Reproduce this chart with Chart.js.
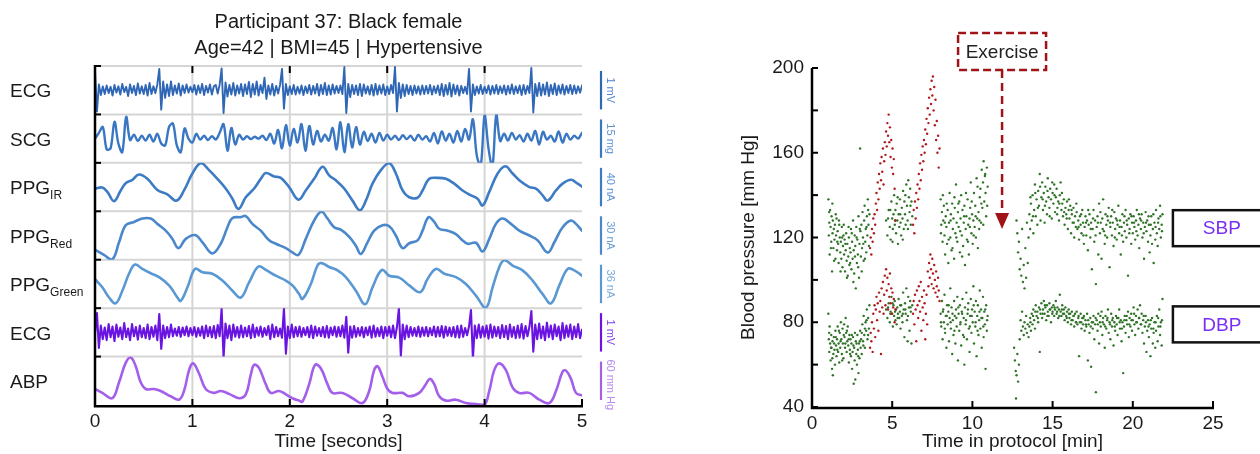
<!DOCTYPE html>
<html><head><meta charset="utf-8">
<script src="https://cdn.jsdelivr.net/npm/chart.js@4.4.1/dist/chart.umd.min.js"></script>
<style>
html,body{margin:0;padding:0;background:#fff;}
#wrap{position:relative;width:1260px;height:454px;overflow:hidden;background:#fff;}
#left{position:absolute;left:0;top:0;}
#right{position:absolute;left:677px;top:0;}
</style></head><body>
<div id="wrap"><canvas id="left" width="677" height="454"></canvas><canvas id="right" width="583" height="454"></canvas></div>
<script>
// ---------------- LEFT PANEL DATA ----------------
const titleLines = ['Participant 37: Black female', 'Age=42 | BMI=45 | Hypertensive'];
const rowNames = ['ECG', 'SCG', 'PPG', 'PPG', 'PPG', 'ECG', 'ABP'];
const rowSubscripts = ['', '', 'IR', 'Red', 'Green', '', ''];
const scaleBarLabels = ['1 mV', '15 mg', '40 nA', '30 nA', '36 nA', '1 mV', '60 mm Hg'];
const timeTicks = [0, 1, 2, 3, 4, 5];
const ecgTimeStep = 0.02; // seconds between ECG samples
const scgTimeStep = 0.04; // seconds between SCG samples

// amplitudes in % of each row's height
const ecgTop = [
  92, 6, 62, 40, 58, 42, 60, 44, 57, 39, 61, 45, 58, 41, 63, 46, 57, 38, 62, 44, 59, 40, 64, 43, 58,
  42, 61, 39, 65, 42, 58, 44, 62, 94, 10, 68, 34, 62, 38, 68, 40, 60, 43, 64, 39, 60, 44, 62, 45, 57,
  46, 61, 41, 60, 44, 63, 40, 59, 45, 62, 41, 58, 61, 43, 62, 95, 3, 66, 37, 61, 41, 65, 39, 60, 43,
  63, 38, 62, 42, 67, 36, 63, 41, 68, 39, 61, 44, 76, 32, 60, 41, 63, 39, 59, 43, 61, 94, 12, 63, 40,
  58, 42, 61, 41, 57, 43, 60, 40, 58, 44, 61, 41, 59, 43, 63, 39, 61, 42, 65, 40, 60, 41, 62, 43, 59,
  44, 60, 42, 98, 3, 63, 36, 61, 42, 60, 40, 63, 38, 62, 43, 58, 41, 61, 39, 63, 41, 60, 43, 62, 40,
  58, 42, 61, 44, 98, 6, 65, 34, 62, 38, 61, 42, 59, 40, 60, 43, 58, 41, 60, 42, 59, 43, 61, 41, 58,
  44, 60, 40, 63, 38, 61, 41, 65, 37, 62, 42, 60, 39, 59, 44, 57, 42, 94, 6, 62, 40, 58, 43, 61, 42,
  57, 44, 60, 41, 59, 43, 61, 42, 58, 44, 60, 41, 59, 43, 62, 42, 58, 44, 60, 40, 61, 42, 59, 44, 96,
  4, 63, 38, 65, 39, 62, 41, 66, 38, 61, 42, 64, 40, 60, 43, 62, 41, 59, 44, 61, 42, 60, 43, 58, 45, 60
];
const scg = [
  50, 62, 74, 28, 30, 85, 40, 22, 95, 47, 58, 45, 56, 46, 58, 44, 60, 40, 36, 74, 81, 36, 22, 71, 50,
  42, 60, 48, 56, 47, 55, 48, 62, 80, 25, 72, 38, 58, 48, 55, 49, 54, 50, 56, 47, 60, 40, 68, 30, 78,
  36, 70, 42, 80, 25, 76, 38, 66, 44, 58, 46, 72, 28, 84, 22, 80, 32, 74, 38, 64, 45, 60, 42, 62, 46,
  58, 48, 56, 47, 57, 49, 56, 46, 58, 48, 55, 44, 62, 40, 65, 46, 60, 42, 66, 44, 70, 48, 90, 15, -6,
  98, 30, -8, 99, 45, 60, 46, 62, 48, 57, 44, 60, 46, 66, 38, 64, 48, 56, 44, 65, 42, 60, 48, 56, 50, 62
];
const ppgIr = [
  [0.00,47],[0.075,49],[0.127,40],[0.195,21],[0.264,43],[0.315,58],[0.384,65],[0.452,76],[0.538,67],[0.640,44],
  [0.743,35],[0.836,22],[0.914,43],[1.00,78],[1.086,99],[1.171,85],[1.257,67],[1.342,47],[1.411,26],[1.473,5],
  [1.548,29],[1.634,47],[1.702,67],[1.753,79],[1.839,72],[1.908,69],[1.993,50],[2.089,24],[2.164,43],[2.25,67],
  [2.336,92],[2.404,74],[2.473,64],[2.558,47],[2.644,22],[2.719,2],[2.781,22],[2.849,57],[2.935,85],[3.021,99],
  [3.089,78],[3.158,43],[3.226,29],[3.312,28],[3.363,43],[3.432,67],[3.517,69],[3.603,67],[3.688,57],[3.774,43],
  [3.860,33],[3.928,26],[3.979,12],[4.048,40],[4.134,78],[4.212,93],[4.288,78],[4.356,64],[4.459,50],[4.527,47],
  [4.596,33],[4.647,22],[4.733,43],[4.801,57],[4.887,65],[4.955,57],[5.0,51]
];
const ppgRed = [
  [0.00,21],[0.092,10],[0.178,1],[0.247,36],[0.315,71],[0.401,78],[0.486,85],[0.572,85],[0.640,74],[0.726,60],
  [0.795,43],[0.856,24],[0.932,43],[1.027,51],[1.103,36],[1.205,13],[1.291,33],[1.360,67],[1.411,86],[1.497,88],
  [1.548,90],[1.616,74],[1.702,60],[1.788,40],[1.856,33],[1.959,24],[2.027,15],[2.089,10],[2.164,43],[2.250,81],
  [2.325,99],[2.387,85],[2.455,67],[2.524,62],[2.610,47],[2.678,29],[2.729,12],[2.798,36],[2.866,60],[2.952,71],
  [3.021,69],[3.089,50],[3.158,24],[3.226,34],[3.312,40],[3.363,60],[3.425,88],[3.483,78],[3.534,64],[3.620,60],
  [3.705,53],[3.757,43],[3.825,33],[3.911,35],[3.979,17],[4.048,43],[4.116,74],[4.185,85],[4.271,74],[4.356,60],
  [4.459,50],[4.545,40],[4.647,15],[4.716,36],[4.801,67],[4.887,81],[4.938,74],[5.0,60]
];
const ppgGreen = [
  [0.00,60],[0.075,43],[0.144,22],[0.212,10],[0.281,36],[0.349,71],[0.411,90],[0.486,81],[0.572,72],[0.658,64],
  [0.760,47],[0.846,22],[0.880,15],[0.949,43],[1.027,81],[1.103,74],[1.205,71],[1.308,57],[1.411,36],[1.497,22],
  [1.582,53],[1.678,86],[1.753,79],[1.856,67],[1.959,57],[2.027,47],[2.096,29],[2.130,19],[2.216,50],[2.284,88],
  [2.325,93],[2.404,85],[2.490,78],[2.575,64],[2.678,36],[2.774,8],[2.849,43],[2.945,79],[3.021,67],[3.123,63],
  [3.226,47],[3.339,33],[3.414,60],[3.500,81],[3.586,71],[3.705,64],[3.808,50],[3.911,26],[4.014,1],[4.082,43],
  [4.151,85],[4.202,99],[4.288,88],[4.390,78],[4.493,57],[4.596,29],[4.682,10],[4.767,47],[4.853,81],[4.921,78],
  [5.0,67]
];
const ecgBottom = [
  48, 90, 18, 64, 36, 60, 34, 67, 40, 62, 32, 66, 41, 60, 36, 69, 40, 58, 34, 67, 42, 61, 35, 64, 40,
  59, 38, 66, 36, 61, 41, 64, 34, 88, 16, 64, 38, 61, 40, 66, 42, 58, 43, 61, 41, 60, 44, 62, 42, 59,
  44, 61, 41, 59, 43, 62, 38, 64, 42, 61, 40, 63, 38, 65, 42, 99, -2, 68, 38, 64, 34, 66, 41, 61, 39,
  64, 40, 60, 42, 63, 38, 66, 40, 60, 43, 62, 41, 59, 44, 63, 36, 66, 40, 61, 42, 58, 39, 99, 6, 62,
  38, 66, 40, 61, 42, 62, 41, 59, 44, 61, 40, 64, 38, 62, 43, 59, 42, 61, 40, 63, 39, 60, 44, 62, 41,
  61, 42, 64, 39, 82, 8, 62, 39, 63, 41, 59, 43, 61, 40, 60, 44, 62, 39, 64, 41, 59, 42, 62, 38, 61,
  43, 62, 40, 64, 38, 61, 99, 2, 66, 36, 64, 40, 61, 43, 59, 42, 62, 41, 60, 43, 61, 42, 59, 44, 62,
  41, 61, 42, 63, 39, 62, 43, 60, 42, 61, 40, 63, 39, 64, 41, 59, 44, 62, 96, -4, 64, 38, 66, 39, 62,
  41, 64, 37, 66, 39, 62, 42, 61, 38, 65, 40, 63, 36, 66, 41, 61, 38, 64, 39, 67, 37, 63, 42, 61, 94,
  10, 66, 36, 68, 38, 62, 34, 70, 40, 64, 36, 66, 42, 62, 34, 69, 38, 64, 41, 66, 36, 62, 40, 67, 38, 56
];
const abp = [
  [0.00,33],[0.075,25],[0.178,14],[0.247,47],[0.315,87],[0.366,98],[0.418,80],[0.469,47],[0.521,33],[0.606,33],
  [0.675,29],[0.777,18],[0.863,11],[0.914,29],[0.966,72],[1.007,86],[1.068,65],[1.137,33],[1.223,25],[1.291,29],
  [1.377,23],[1.479,14],[1.548,22],[1.599,62],[1.634,83],[1.685,76],[1.753,43],[1.805,25],[1.890,29],[1.959,22],
  [2.027,14],[2.096,9],[2.130,7],[2.199,43],[2.260,83],[2.318,76],[2.387,43],[2.438,25],[2.541,25],[2.644,14],
  [2.747,4],[2.815,29],[2.866,72],[2.901,80],[2.952,58],[3.003,33],[3.055,25],[3.158,25],[3.226,18],[3.329,25],
  [3.397,43],[3.438,54],[3.483,43],[3.534,18],[3.603,9],[3.705,11],[3.808,4],[3.911,2],[3.997,0],[4.048,29],
  [4.099,72],[4.151,86],[4.219,72],[4.288,36],[4.356,25],[4.459,25],[4.562,11],[4.664,4],[4.733,29],[4.801,69],
  [4.836,71],[4.887,54],[4.938,25],[5.0,20]
];

// ---------------- RIGHT PANEL DATA ----------------
const protocolTicks = [0, 5, 10, 15, 20, 25];
const pressureTicks = [40, 80, 120, 160, 200];
const exerciseLabel = 'Exercise';
const sbpLabel = 'SBP';
const dbpLabel = 'DBP';
const sbpRest = [
  [1.02,138],[1.05,121],[1.08,127],[1.1,112],[1.13,133],[1.16,125],[1.2,118],[1.22,130],[1.25,104],[1.28,122],[1.3,128],[1.33,115],[1.36,124],[1.4,119],[1.43,126],[1.46,110],[1.5,121],[1.53,129],[1.56,114],[1.6,123],[1.63,117],[1.66,108],[1.7,126],[1.73,120],[1.76,113],[1.8,118],[1.83,110],[1.86,125],[1.9,106],[1.93,116],[1.96,121],[2.0,112],[2.03,119],[2.06,104],[2.1,114],[2.13,122],[2.16,109],[2.2,117],[2.23,102],[2.26,111],[2.3,120],[2.33,107],[2.36,115],[2.4,113],[2.43,124],[2.46,105],[2.5,118],[2.53,110],[2.56,128],[2.6,114],[2.63,103],[2.66,121],[2.7,116],[2.73,96],[2.76,125],[2.8,108],[2.83,119],[2.86,112],[2.9,130],[2.93,101],[2.96,117],[3.0,162],[3.02,123],[3.05,111],[3.08,126],[3.12,115],[3.15,132],[3.18,120],[3.22,109],[3.25,128],[3.28,135],[3.32,118],[3.35,124],[3.38,113],[3.42,130],[3.45,121],[3.48,138],[3.52,126],[3.55,116],[3.58,131],
  [1.07,132],[1.18,115],[1.27,136],[1.38,109],[1.48,131],[1.58,118],[1.68,128],[1.78,104],[1.88,120],[1.98,126],[2.08,117],[2.18,101],[2.28,125],[2.38,108],[2.48,122],[2.58,99],[2.68,111],[2.78,120],[2.88,106],[2.98,124],[3.1,104],[3.2,117],[3.3,110],[3.4,125],[3.5,133],
  [4.62,128],[4.7,121],[4.78,133],[4.85,125],[4.9,119],[4.95,137],[5.0,129],[5.04,124],[5.08,131],[5.12,140],[5.16,126],[5.2,133],[5.24,122],[5.28,136],[5.32,128],[5.36,117],[5.4,131],[5.44,125],[5.48,138],[5.52,127],[5.56,121],[5.6,134],[5.64,129],[5.68,142],[5.72,124],[5.76,137],[5.8,131],[5.84,126],[5.88,145],[5.92,135],[5.96,128],[6.0,147],[6.04,139],[6.08,132],[6.12,143],[6.16,126],[6.2,137],[6.25,130],
  [4.74,129],[4.88,133],[5.02,118],[5.18,128],[5.34,139],[5.5,131],[5.66,119],[5.82,140],[5.98,124],[6.14,135],
  [8.02,138],[8.06,126],[8.1,132],[8.14,118],[8.18,128],[8.22,135],[8.26,121],[8.3,112],[8.34,130],[8.38,125],[8.42,117],[8.46,133],[8.5,108],[8.54,127],[8.58,141],[8.62,120],[8.66,131],[8.7,114],[8.74,136],[8.78,124],[8.82,129],[8.86,110],[8.9,134],[8.94,122],[8.98,145],[9.02,127],[9.06,118],[9.1,132],[9.14,125],[9.18,137],[9.22,113],[9.26,129],[9.3,140],[9.34,121],[9.38,133],[9.42,116],[9.46,127],[9.5,135],[9.54,107],[9.58,124],[9.62,130],[9.66,119],[9.7,138],[9.74,126],[9.78,112],[9.82,129],[9.86,134],[9.9,146],[9.94,122],[9.98,131],[10.02,117],[10.06,128],[10.1,141],[10.14,125],[10.18,135],[10.22,120],[10.26,148],[10.3,129],[10.34,115],[10.38,132],[10.42,124],[10.46,139],[10.5,143],[10.54,127],[10.58,152],[10.62,134],[10.66,146],[10.7,156],[10.74,137],[10.78,149],[10.82,141],[10.86,130],[10.9,153],[10.95,144],
  [8.04,122],[8.16,140],[8.28,127],[8.4,136],[8.52,119],[8.64,128],[8.76,115],[8.88,139],[9.0,120],[9.12,136],[9.24,123],[9.36,111],[9.48,130],[9.6,141],[9.72,118],[9.84,125],[9.96,137],[10.08,121],[10.2,130],[10.32,144],[10.44,128],[10.56,136],[10.68,126],[10.8,150],[10.92,135],
  [12.75,128],[12.8,122],[12.85,113],[12.9,118],[12.95,105],[13.0,110],[13.05,102],[13.1,124],[13.15,99],[13.2,107],[13.25,96],[13.3,115],[13.35,101],[13.4,127],[13.45,108],[13.5,120],
  [13.55,131],[13.6,124],[13.65,136],[13.7,128],[13.75,140],[13.8,122],[13.85,133],[13.9,145],[13.95,130],[14.0,138],[14.05,126],[14.1,142],[14.15,135],[14.2,150],[14.25,128],[14.3,139],[14.35,146],[14.4,133],[14.45,141],[14.5,127],[14.55,144],[14.6,137],[14.65,131],[14.7,148],[14.75,139],[14.8,134],[14.85,143],[14.9,138],[14.95,129],[15.0,141],[15.05,136],[15.1,145],[15.15,132],[15.2,139],[15.25,143],[15.3,134],[15.35,137],[15.4,128],[15.45,140],[15.5,146],[15.55,133],[15.6,136],[15.65,130],[15.7,138],[15.75,126],[15.8,134],[15.85,131],[15.9,137],[15.95,124],[16.0,133],[16.05,129],[16.1,135],[16.15,122],[16.2,131],[16.25,127],[16.3,134],[16.35,120],[16.4,130],[16.45,125],
  [13.62,139],[13.78,130],[13.92,141],[14.08,134],[14.22,144],[14.38,138],[14.52,135],[14.68,142],[14.82,130],[14.98,146],[15.12,140],[15.28,131],[15.42,136],[15.58,141],[15.72,132],[15.88,129],[16.02,138],[16.18,133],[16.32,127],[16.48,136],
  [16.5,132],[16.55,124],[16.6,128],[16.65,119],[16.7,130],[16.75,126],[16.8,122],[16.85,133],[16.9,127],[16.95,117],[17.0,125],[17.05,130],[17.1,121],[17.15,128],[17.2,114],[17.25,126],[17.3,131],[17.35,120],[17.4,127],[17.45,105],[17.5,124],[17.55,133],[17.6,118],[17.65,128],[17.7,98],[17.75,125],[17.8,130],[17.85,112],[17.9,136],[17.95,122],[18.0,127],[18.05,110],[18.1,129],[18.15,138],[18.2,123],[18.25,117],[18.3,131],[18.35,126],[18.4,120],[18.45,128],[18.5,134],[18.55,106],[18.6,125],[18.65,130],[18.7,121],[18.75,127],[18.8,116],[18.85,132],[18.9,124],[18.95,129],[19.0,119],[19.05,126],[19.1,135],[19.15,122],[19.2,128],[19.25,112],[19.3,125],[19.35,131],[19.4,118],[19.45,127],[19.5,123],[19.55,133],[19.6,120],[19.65,126],[19.7,102],[19.75,129],[19.8,124],[19.85,131],[19.9,117],[19.95,127],[20.0,122],[20.05,130],[20.1,125],[20.15,119],[20.2,128],[20.25,133],[20.3,121],[20.35,126],[20.4,115],[20.45,129],[20.5,124],[20.55,131],[20.6,120],[20.65,127],[20.7,110],[20.75,125],[20.8,132],[20.85,123],[20.9,128],[20.95,118],[21.0,126],[21.05,113],[21.1,121],[21.15,130],[21.2,117],[21.25,124],[21.3,108],[21.35,127],[21.4,119],[21.45,133],[21.5,122],[21.55,116],[21.6,129],[21.65,124],[21.7,135],[21.75,120],[21.8,126],[21.85,131],
  [16.62,125],[16.78,131],[16.92,121],[17.08,127],[17.22,133],[17.38,124],[17.52,129],[17.68,121],[17.82,127],[17.98,132],[18.12,124],[18.28,121],[18.42,130],[18.58,127],[18.72,133],[18.88,120],[19.02,128],[19.18,125],[19.32,121],[19.48,130],[19.62,128],[19.78,122],[19.92,130],[20.08,127],[20.22,123],[20.38,131],[20.52,128],[20.68,122],[20.82,127],[20.98,130],[21.12,126],[21.28,131],[21.42,125],[21.58,127],[21.72,130],[21.82,123]
];
const dbpRest = [
  [1.02,84],[1.05,72],[1.08,66],[1.1,78],[1.13,70],[1.16,62],[1.2,74],[1.22,68],[1.25,58],[1.28,71],[1.3,55],[1.33,65],[1.36,73],[1.4,67],[1.43,60],[1.46,76],[1.5,69],[1.53,64],[1.56,72],[1.6,78],[1.63,66],[1.66,70],[1.7,61],[1.73,75],[1.76,68],[1.8,80],[1.83,72],[1.86,65],[1.9,77],[1.93,70],[1.96,63],[2.0,79],[2.03,73],[2.06,68],[2.1,82],[2.13,75],[2.16,66],[2.2,71],[2.23,78],[2.26,69],[2.3,61],[2.33,74],[2.36,67],[2.4,72],[2.43,64],[2.46,70],[2.5,58],[2.53,66],[2.56,73],[2.6,51],[2.63,68],[2.66,62],[2.7,53],[2.73,71],[2.76,65],[2.8,60],[2.83,74],[2.86,67],[2.9,56],[2.93,70],[2.96,63],[3.0,76],[3.03,68],[3.06,72],[3.1,65],[3.14,79],[3.18,71],[3.22,83],[3.26,74],[3.3,68],[3.34,80],[3.38,76],[3.42,86],[3.46,72],[3.5,82],[3.55,77],[3.58,88],
  [1.07,75],[1.18,68],[1.27,63],[1.38,70],[1.48,73],[1.58,67],[1.68,76],[1.78,71],[1.88,62],[1.98,74],[2.08,70],[2.18,76],[2.28,72],[2.38,65],[2.48,74],[2.58,69],[2.68,75],[2.78,70],[2.88,64],[2.98,71],[3.1,75],[3.2,69],[3.3,77],[3.4,81],[3.5,74],
  [4.62,86],[4.7,82],[4.78,89],[4.85,80],[4.9,85],[4.95,92],[5.0,84],[5.04,78],[5.08,88],[5.12,83],[5.16,90],[5.2,81],[5.24,86],[5.28,79],[5.32,87],[5.36,84],[5.4,91],[5.44,82],[5.48,85],[5.52,77],[5.56,88],[5.6,83],[5.64,80],[5.68,94],[5.72,86],[5.76,73],[5.8,89],[5.84,84],[5.88,96],[5.92,81],[5.96,71],[6.0,92],[6.04,87],[6.08,76],[6.12,90],[6.16,85],[6.2,70],[6.25,88],
  [4.74,87],[4.88,84],[5.02,89],[5.18,85],[5.34,82],[5.5,88],[5.66,84],[5.82,86],[5.98,83],[6.14,87],
  [8.02,84],[8.06,78],[8.1,90],[8.14,72],[8.18,86],[8.22,80],[8.26,93],[8.3,75],[8.34,83],[8.38,68],[8.42,88],[8.46,79],[8.5,85],[8.54,71],[8.58,82],[8.62,96],[8.66,77],[8.7,87],[8.74,65],[8.78,81],[8.82,74],[8.86,90],[8.9,83],[8.94,70],[8.98,86],[9.02,78],[9.06,92],[9.1,62],[9.14,84],[9.18,76],[9.22,88],[9.26,80],[9.3,69],[9.34,85],[9.38,91],[9.42,74],[9.46,82],[9.5,60],[9.54,87],[9.58,79],[9.62,94],[9.66,72],[9.7,84],[9.74,89],[9.78,77],[9.82,66],[9.86,83],[9.9,91],[9.94,75],[9.98,86],[10.02,80],[10.06,97],[10.1,70],[10.14,85],[10.18,78],[10.22,90],[10.26,64],[10.3,83],[10.34,88],[10.38,74],[10.42,81],[10.46,95],[10.5,77],[10.54,86],[10.58,68],[10.62,82],[10.66,92],[10.7,73],[10.74,85],[10.78,79],[10.82,58],[10.86,88],[10.9,76],[10.95,83],
  [8.04,80],[8.16,85],[8.28,77],[8.4,83],[8.52,88],[8.64,80],[8.76,84],[8.88,76],[9.0,82],[9.12,87],[9.24,79],[9.36,84],[9.48,73],[9.6,81],[9.72,86],[9.84,78],[9.96,83],[10.08,88],[10.2,80],[10.32,76],[10.44,85],[10.56,82],[10.68,78],[10.8,86],[10.92,81],
  [12.6,68],[12.65,62],[12.7,57],[12.72,44],[12.75,55],[12.8,65],[12.85,52],[12.9,60],[12.95,72],[13.0,81],[13.05,76],[13.1,85],[13.15,78],[13.2,74],[13.25,80],[13.3,77],[13.35,83],[13.4,75],[13.45,79],[13.5,73],
  [13.55,78],[13.6,82],[13.65,76],[13.7,84],[13.75,79],[13.8,86],[13.85,81],[13.9,77],[13.95,88],[14.0,83],[14.05,85],[14.1,80],[14.15,87],[14.2,66],[14.25,84],[14.3,89],[14.35,82],[14.4,86],[14.45,90],[14.5,84],[14.55,87],[14.6,81],[14.65,88],[14.7,85],[14.75,83],[14.8,89],[14.85,86],[14.9,80],[14.95,87],[15.0,85],[15.05,88],[15.1,83],[15.15,86],[15.2,90],[15.25,84],[15.3,87],[15.35,82],[15.4,86],[15.45,93],[15.5,85],[15.55,83],[15.6,88],[15.65,84],[15.7,86],[15.75,81],[15.8,87],[15.85,83],[15.9,85],[15.95,80],[16.0,86],[16.05,82],[16.1,84],[16.15,79],[16.2,85],[16.25,81],[16.3,83],[16.35,78],[16.4,84],[16.45,80],[16.5,85],[16.55,79],[16.6,82],[16.65,64],[16.7,80],[16.75,84],[16.8,77],[16.85,82],[16.9,79],[16.95,83],[17.0,76],[17.05,81],[17.1,78],[17.15,84],[17.2,62],[17.25,79],[17.3,75],[17.35,82],[17.4,59],[17.45,80],[17.5,77],[17.55,83],[17.6,72],[17.65,79],[17.7,47],[17.75,81],[17.8,76],[17.85,84],[17.9,70],[17.95,80],[18.0,78],[18.05,85],[18.1,74],[18.15,82],[18.2,79],[18.25,68],[18.3,83],[18.35,77],[18.4,81],[18.45,86],[18.5,75],[18.55,80],[18.6,72],[18.65,84],[18.7,78],[18.75,82],[18.8,69],[18.85,80],[18.9,76],[18.95,83],[19.0,79],[19.05,74],[19.1,82],[19.15,86],[19.2,77],[19.25,81],[19.3,71],[19.35,80],[19.4,56],[19.45,78],[19.5,83],[19.55,75],[19.6,81],[19.65,79],[19.7,85],[19.75,73],[19.8,82],[19.85,78],[19.9,84],[19.95,76],[20.0,81],[20.05,87],[20.1,79],[20.15,74],[20.2,83],[20.25,80],[20.3,86],[20.35,77],[20.4,82],[20.45,88],[20.5,79],[20.55,84],[20.6,75],[20.65,81],[20.7,70],[20.75,78],[20.8,83],[20.85,66],[20.9,76],[20.95,81],[21.0,73],[21.05,79],[21.1,64],[21.15,77],[21.2,82],[21.25,70],[21.3,75],[21.35,80],[21.4,68],[21.45,76],[21.5,83],[21.55,71],[21.6,78],[21.65,86],[21.7,74],[21.75,80],[21.8,69],[21.85,91],
  [13.62,80],[13.78,83],[13.92,85],[14.08,82],[14.22,86],[14.38,84],[14.52,88],[14.68,83],[14.82,86],[14.98,84],[15.12,87],[15.28,85],[15.42,83],[15.58,86],[15.72,84],[15.88,82],[16.02,84],[16.18,81],[16.32,83],[16.48,80],[16.62,83],[16.78,80],[16.92,82],[17.08,79],[17.22,81],[17.38,78],[17.52,80],[17.68,82],[17.82,79],[17.98,83],[18.12,80],[18.28,78],[18.42,82],[18.58,79],[18.72,81],[18.88,78],[19.02,82],[19.18,80],[19.32,77],[19.48,81],[19.62,83],[19.78,79],[19.92,81],[20.08,84],[20.22,80],[20.38,82],[20.52,79],[20.68,83],[20.82,80],[20.98,78],[21.12,81],[21.28,77],[21.42,80],[21.58,82],[21.72,78],[21.82,81]
];
const sbpExercise = [
  [3.62,115],[3.66,120],[3.7,112],[3.74,124],[3.78,118],[3.82,129],[3.86,122],[3.9,131],[3.94,126],[3.98,136],[4.02,141],[4.06,133],[4.1,146],[4.14,138],[4.18,150],[4.22,143],[4.26,155],[4.3,147],[4.34,158],[4.38,151],[4.42,162],[4.46,145],[4.5,156],[4.54,165],[4.58,159],[4.62,170],[4.66,163],[4.7,174],[4.74,168],[4.78,178],[4.82,165],[4.86,172],[4.9,158],[4.94,166],[4.98,153],[5.02,162],[5.06,150],[5.1,157],[5.15,143],[5.2,128],
  [6.3,126],[6.34,133],[6.38,122],[6.42,137],[6.46,129],[6.5,141],[6.54,134],[6.58,145],[6.62,138],[6.66,150],[6.7,143],[6.74,155],[6.78,147],[6.82,159],[6.86,152],[6.9,163],[6.94,156],[6.98,166],[7.02,160],[7.06,171],[7.1,164],[7.14,176],[7.18,169],[7.22,181],[7.26,174],[7.3,186],[7.34,178],[7.38,190],[7.42,183],[7.46,194],[7.5,187],[7.54,196],[7.58,180],[7.62,191],[7.66,173],[7.7,185],[7.74,166],[7.78,175],[7.82,160],[7.86,168],[7.9,153],[7.95,162]
];
const dbpExercise = [
  [3.62,68],[3.66,75],[3.7,71],[3.74,80],[3.78,66],[3.82,84],[3.86,77],[3.9,88],[3.94,73],[3.98,86],[4.02,92],[4.06,81],[4.1,89],[4.14,76],[4.18,94],[4.22,85],[4.26,90],[4.3,65],[4.34,96],[4.38,87],[4.42,99],[4.46,84],[4.5,93],[4.54,102],[4.58,88],[4.62,105],[4.66,95],[4.7,101],[4.74,86],[4.78,98],[4.82,92],[4.86,103],[4.9,89],[4.94,96],[4.98,84],[5.02,94],[5.06,87],[5.1,91],[5.15,80],[5.2,86],
  [6.3,84],[6.34,90],[6.38,79],[6.42,93],[6.46,86],[6.5,71],[6.54,95],[6.58,88],[6.62,82],[6.66,97],[6.7,90],[6.74,85],[6.78,99],[6.82,76],[6.86,92],[6.9,87],[6.94,81],[6.98,95],[7.02,89],[7.06,72],[7.1,84],[7.14,93],[7.18,79],[7.22,104],[7.26,97],[7.3,108],[7.34,101],[7.38,112],[7.42,105],[7.46,98],[7.5,110],[7.54,103],[7.58,96],[7.62,107],[7.66,100],[7.7,94],[7.74,104],[7.78,97],[7.82,92],[7.86,101],[7.9,95],[7.95,90]
];

// ---------------- STYLE ----------------
const FONT = "'Liberation Sans', Arial, Helvetica, sans-serif";
const TEXT = '#1a1a1a';
const rowColors = ['#2f66b5', '#3a77c3', '#3d7bc4', '#4a88cb', '#5a98d3', '#6a14e2', '#a35fea'];
const barTextColors = ['#4f82cf', '#5a90d2', '#5f93d3', '#6a9ed6', '#7aaadb', '#7d3bef', '#b68af0'];
const rowWidths = [1.9, 2.4, 2.6, 2.6, 2.6, 2.1, 2.6];
const GRID = '#d5d5d5';
const GREEN = '#2f7327';
const RED = '#b0181c';
const EX_RED = '#a01418';
const PURPLE = '#7a2ef5';

function sampled(values, step) { return values.map((v, i) => ({x: Math.round(i * step * 1000) / 1000, y: v})); }
function pairs(arr) { return arr.map(p => ({x: p[0], y: p[1]})); }

const rowData = [sampled(ecgTop, ecgTimeStep), sampled(scg, scgTimeStep), pairs(ppgIr), pairs(ppgRed), pairs(ppgGreen), sampled(ecgBottom, ecgTimeStep), pairs(abp)];
const rowSmooth = [0, 0.35, 0.4, 0.4, 0.4, 0, 0.4];

const leftScales = {
  x: {
    type: 'linear', position: 'bottom', min: 0, max: 5,
    afterBuildTicks: s => { s.ticks = timeTicks.map(v => ({value: v})); },
    ticks: {padding: 5, color: TEXT, font: {family: FONT, size: 19}, autoSkip: false},
    grid: {display: false, drawTicks: false}, border: {display: false},
    title: {display: true, text: 'Time [seconds]', color: TEXT, font: {family: FONT, size: 19}, padding: {top: 0, bottom: 1}},
    afterFit: s => { s.height = 49; }
  }
};
for (let i = 0; i < 7; i++) {
  leftScales['r' + i] = {
    type: 'linear', position: 'left', stack: 'rows', stackWeight: 1, weight: 10 - i,
    min: 0, max: 100,
    ticks: {display: false}, grid: {display: false, drawTicks: false}, border: {display: false},
    afterFit: s => { s.width = 0; }
  };
}

const leftPlugin = {
  id: 'leftDecor',
  beforeDatasetsDraw(chart) {
    const {ctx, chartArea: a, scales} = chart;
    ctx.save();
    ctx.strokeStyle = GRID; ctx.lineWidth = 2;
    for (let i = 0; i < 7; i++) {
      const s = scales['r' + i];
      ctx.beginPath(); ctx.moveTo(a.left, s.top); ctx.lineTo(a.right, s.top); ctx.stroke();
    }
    timeTicks.slice(1, -1).forEach(t => {
      const x = scales.x.getPixelForValue(t);
      ctx.beginPath(); ctx.moveTo(x, a.top); ctx.lineTo(x, a.bottom); ctx.stroke();
    });
    ctx.restore();
  },
  afterDatasetsDraw(chart) {
    const {ctx, chartArea: a, scales} = chart;
    ctx.save();
    ctx.strokeStyle = '#000'; ctx.lineWidth = 2.5; ctx.lineCap = 'butt';
    ctx.beginPath(); ctx.moveTo(a.left, a.top - 1); ctx.lineTo(a.left, a.bottom + 1.2); ctx.lineTo(a.right + 1, a.bottom + 1.2); ctx.stroke();
    ctx.lineWidth = 2;
    for (let i = 0; i < 7; i++) {
      const s = scales['r' + i];
      ctx.beginPath(); ctx.moveTo(a.left, s.top); ctx.lineTo(a.left + 6, s.top); ctx.stroke();
    }
    timeTicks.forEach(t => {
      const x = scales.x.getPixelForValue(t);
      ctx.beginPath(); ctx.moveTo(x, a.bottom); ctx.lineTo(x, a.bottom - 6); ctx.stroke();
      if (t > 0 && t < 5) { ctx.beginPath(); ctx.moveTo(x, a.top); ctx.lineTo(x, a.top + 7); ctx.stroke(); }
    });
    // row labels
    ctx.fillStyle = TEXT; ctx.textBaseline = 'middle'; ctx.textAlign = 'left';
    for (let i = 0; i < 7; i++) {
      const s = scales['r' + i];
      const cy = (s.top + s.bottom) / 2 + 2;
      ctx.font = '19px ' + FONT;
      ctx.fillText(rowNames[i], 10, cy);
      if (rowSubscripts[i]) {
        const w = ctx.measureText(rowNames[i]).width;
        ctx.font = '12px ' + FONT;
        ctx.fillText(rowSubscripts[i], 10 + w, cy + 7);
      }
    }
    // scale bars
    for (let i = 0; i < 7; i++) {
      const s = scales['r' + i];
      const bx = a.right + 19;
      ctx.strokeStyle = rowColors[i]; ctx.lineWidth = 2.2;
      ctx.beginPath(); ctx.moveTo(bx, s.top + 5); ctx.lineTo(bx, s.bottom - 5); ctx.stroke();
      ctx.save();
      ctx.translate(bx + 9, (s.top + s.bottom) / 2 + (i === 6 ? 4 : 0));
      ctx.rotate(Math.PI / 2);
      ctx.fillStyle = barTextColors[i]; ctx.textAlign = 'center'; ctx.textBaseline = 'middle';
      ctx.font = '11px ' + FONT;
      ctx.fillText(scaleBarLabels[i], 0, 0);
      ctx.restore();
    }
    // title
    ctx.fillStyle = TEXT; ctx.textAlign = 'center'; ctx.textBaseline = 'middle';
    ctx.font = '20px ' + FONT;
    const cx = (a.left + a.right) / 2;
    ctx.fillText(titleLines[0], cx, 22);
    ctx.fillText(titleLines[1], cx, 48);
    ctx.restore();
  }
};

new Chart(document.getElementById('left'), {
  type: 'line',
  data: {
    datasets: rowData.map((d, i) => ({
      data: d, yAxisID: 'r' + i, xAxisID: 'x', borderColor: rowColors[i], borderWidth: rowWidths[i],
      pointRadius: 0, tension: rowSmooth[i], fill: false, borderJoinStyle: 'round', borderCapStyle: 'round'
    }))
  },
  options: {
    responsive: false, animation: false, devicePixelRatio: 1,
    layout: {padding: {left: 95, right: 95, top: 66, bottom: 0}},
    plugins: {legend: {display: false}, tooltip: {enabled: false}, title: {display: false}},
    scales: leftScales
  },
  plugins: [leftPlugin]
});

// ---------------- RIGHT CHART ----------------
const rightPlugin = {
  id: 'rightDecor',
  afterDatasetsDraw(chart) {
    const {ctx, chartArea: a, scales: {x, y}} = chart;
    ctx.save();
    ctx.strokeStyle = '#000'; ctx.lineWidth = 2.5;
    const x0 = x.getPixelForValue(0), y0 = y.getPixelForValue(40);
    ctx.beginPath();
    ctx.moveTo(x0, y.getPixelForValue(200)); ctx.lineTo(x0, y0 + 1); ctx.lineTo(x.getPixelForValue(25) + 1, y0 + 1);
    ctx.stroke();
    ctx.lineWidth = 2;
    for (let v = 40; v <= 200; v += 20) {
      const py = y.getPixelForValue(v);
      ctx.beginPath(); ctx.moveTo(x0, py); ctx.lineTo(x0 + 6, py); ctx.stroke();
    }
    protocolTicks.forEach(t => {
      const px = x.getPixelForValue(t);
      ctx.beginPath(); ctx.moveTo(px, y0); ctx.lineTo(px, y0 - 6); ctx.stroke();
    });
    // Exercise annotation
    const ex = x.getPixelForValue(11.85);
    const boxTop = 33, boxBottom = a.top + 2, boxW = 88;
    ctx.strokeStyle = EX_RED; ctx.lineWidth = 2.5; ctx.setLineDash([8, 4]);
    ctx.strokeRect(ex - boxW / 2, boxTop, boxW, boxBottom - boxTop);
    const tipY = y.getPixelForValue(124);
    ctx.setLineDash([8, 5]);
    ctx.beginPath(); ctx.moveTo(ex, boxBottom); ctx.lineTo(ex, tipY - 14); ctx.stroke();
    ctx.setLineDash([]);
    ctx.fillStyle = EX_RED;
    ctx.beginPath(); ctx.moveTo(ex - 7, tipY - 16); ctx.lineTo(ex + 7, tipY - 16); ctx.lineTo(ex, tipY); ctx.closePath(); ctx.fill();
    ctx.fillStyle = '#222'; ctx.textAlign = 'center'; ctx.textBaseline = 'middle';
    ctx.font = '19px ' + FONT;
    ctx.fillText(exerciseLabel, ex, (boxTop + boxBottom) / 2 + 1);
    // SBP / DBP tags
    [[sbpLabel, 124.4], [dbpLabel, 79]].forEach(([lab, v]) => {
      const cy = y.getPixelForValue(v);
      const bx = x.getPixelForValue(22.5);
      ctx.strokeStyle = '#111'; ctx.lineWidth = 2.5;
      ctx.strokeRect(bx, cy - 18, 200, 36);
      ctx.fillStyle = PURPLE; ctx.font = '19px ' + FONT;
      ctx.fillText(lab, x.getPixelForValue(25.55), cy + 1);
    });
    ctx.restore();
  }
};

function dots(arr, color, label) {
  return {label, data: pairs(arr), showLine: false, pointRadius: 1.2, pointBorderWidth: 0,
    pointBackgroundColor: color, pointBorderColor: color, backgroundColor: color};
}

new Chart(document.getElementById('right'), {
  type: 'scatter',
  data: {
    datasets: [
      dots(sbpExercise, RED, 'SBP exercise'),
      dots(dbpExercise, RED, 'DBP exercise'),
      dots(sbpRest, GREEN, 'SBP'),
      dots(dbpRest, GREEN, 'DBP')
    ]
  },
  options: {
    responsive: false, animation: false, devicePixelRatio: 1,
    layout: {padding: {left: 60, right: 47, top: 68, bottom: 0}},
    plugins: {legend: {display: false}, tooltip: {enabled: false}},
    scales: {
      x: {
        type: 'linear', min: 0, max: 25,
        afterBuildTicks: s => { s.ticks = protocolTicks.map(v => ({value: v})); },
        ticks: {padding: 5, color: TEXT, font: {family: FONT, size: 19}, autoSkip: false, maxRotation: 0},
        grid: {display: false, drawTicks: false}, border: {display: false},
        title: {display: true, text: 'Time in protocol [min]', color: TEXT, font: {family: FONT, size: 19}, padding: {top: 0, bottom: 1}},
        afterFit: s => { s.height = 47; }
      },
      y: {
        type: 'linear', min: 40, max: 200,
        afterBuildTicks: s => { s.ticks = pressureTicks.map(v => ({value: v})); },
        ticks: {padding: 8, color: TEXT, font: {family: FONT, size: 19}, autoSkip: false},
        grid: {display: false, drawTicks: false}, border: {display: false},
        title: {display: true, text: 'Blood pressure [mm Hg]', color: TEXT, font: {family: FONT, size: 19}, padding: {top: 0, bottom: 4}},
        afterFit: s => { s.width = 75; }
      }
    }
  },
  plugins: [rightPlugin]
});
</script></body></html>
